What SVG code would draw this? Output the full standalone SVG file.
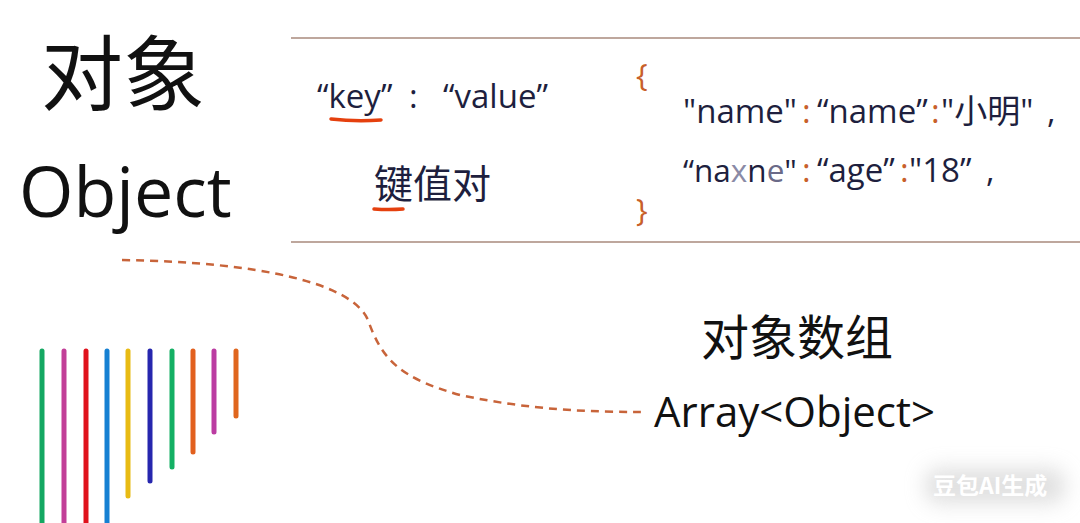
<svg xmlns="http://www.w3.org/2000/svg" width="1080" height="523" viewBox="0 0 1080 523">
  <defs>
    <style>
      .big { font-family: "Open Sans", "Noto Sans CJK SC", sans-serif; fill: #111111; }
      .cn { font-family: "Noto Sans CJK SC", sans-serif; }
      .code { font-family: "Open Sans", "Noto Sans CJK SC", sans-serif; fill: #1e1f3e; }
      .punc { fill: #c8602a; }
      .rule { stroke: #a88a7c; stroke-width: 1.5; }
      .bar { stroke-width: 5; stroke-linecap: round; fill: none; }
      .ul { stroke: #e5400e; stroke-width: 3.5; stroke-linecap: round; fill: none; }
      .dash { stroke: #c8643a; stroke-width: 2.5; stroke-dasharray: 8 6; fill: none; }
    </style>
    <filter id="glow" x="-30%" y="-60%" width="160%" height="220%">
      <feGaussianBlur stdDeviation="10"/>
    </filter>
  </defs>
  <rect width="1080" height="523" fill="#ffffff"/>

  <g id="title-object">
    <text class="big cn" x="41" y="104" font-size="82">对象</text>
    <text class="big" x="19" y="217" font-size="70">Object</text>
  </g>

  <g id="rules">
    <line class="rule" x1="291" y1="38" x2="1080" y2="38"/>
    <line class="rule" x1="291" y1="242" x2="1080" y2="242"/>
  </g>

  <g id="key-value">
    <text class="code" x="317" y="108" font-size="33">“key”</text>
    <text class="code" x="409" y="108" font-size="33">:</text>
    <text class="code" x="443" y="108" font-size="33">“value”</text>
    <path class="ul" d="M331,119 Q356,122 381,120"/>
    <text class="code cn" x="374" y="198" font-size="39">键值对</text>
    <path class="ul" d="M374,209 Q389,210 403,209"/>
  </g>

  <g id="json-example">
    <text class="punc" x="636" y="86" font-size="31" font-family="Open Sans, sans-serif">{</text>
    <text class="code" y="123" font-size="33"><tspan x="683">"name"</tspan><tspan class="punc" x="802">:</tspan><tspan x="817">“name”</tspan><tspan class="punc" x="931">:</tspan><tspan x="941">"小明"</tspan><tspan x="1047">,</tspan></text>
    <text class="code" y="182" font-size="33"><tspan x="683" font-size="31.5">“na</tspan><tspan font-size="31.5" fill="#8a8aa6">x</tspan><tspan font-size="31.5">n</tspan><tspan font-size="31.5" fill="#6a6a88">e</tspan><tspan font-size="31.5">"</tspan><tspan class="punc" x="802">:</tspan><tspan x="817">“age”</tspan><tspan class="punc" x="900">:</tspan><tspan x="909">"18”</tspan><tspan x="986">,</tspan></text>
    <text class="punc" x="636" y="221" font-size="31" font-family="Open Sans, sans-serif">}</text>
  </g>

  <g id="array-object">
    <text class="big cn" x="701" y="355" font-size="48">对象数组</text>
    <text class="big" x="654" y="427" font-size="42">Array&lt;Object&gt;</text>
  </g>

  <g id="connectors">
    <path class="dash" d="M122,260 C260,262 352,283 368,320 C382,360 400,378 460,395 C530,410 590,412 643,412"/>
  </g>

  <g id="color-bars">
    <line class="bar" stroke="#14a862" x1="42" y1="351" x2="42" y2="530"/>
    <line class="bar" stroke="#c23f98" x1="64" y1="351" x2="64" y2="530"/>
    <line class="bar" stroke="#e0121c" x1="86" y1="351" x2="86" y2="530"/>
    <line class="bar" stroke="#1680d2" x1="107" y1="351" x2="107" y2="530"/>
    <line class="bar" stroke="#e8bb14" x1="128" y1="351" x2="128" y2="496"/>
    <line class="bar" stroke="#2626ae" x1="150" y1="351" x2="150" y2="481"/>
    <line class="bar" stroke="#14b064" x1="172" y1="351" x2="172" y2="467"/>
    <line class="bar" stroke="#e2601e" x1="193" y1="351" x2="193" y2="452"/>
    <line class="bar" stroke="#bb3ca2" x1="214" y1="351" x2="214" y2="432"/>
    <line class="bar" stroke="#e0661e" x1="236" y1="351" x2="236" y2="416"/>
  </g>

  <g id="watermark">
    <rect x="925" y="468" width="140" height="36" rx="14" fill="#c8c8c8" opacity="0.55" filter="url(#glow)"/>
    <text x="933" y="494" font-size="23" font-weight="bold" fill="#ffffff" font-family="Noto Sans CJK SC, sans-serif">豆包AI生成</text>
  </g>
</svg>
